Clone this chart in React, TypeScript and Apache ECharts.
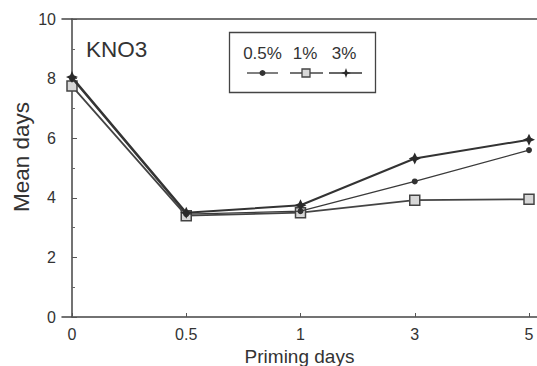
import React, { useEffect, useRef } from "react";
import * as echarts from "echarts";

const categories = ["0", "0.5", "1", "3", "5"];
const seriesNames = ["0.5%", "1%", "3%"];
const values05 = [8.0, 3.45, 3.55, 4.55, 5.6];
const values1 = [7.75, 3.4, 3.5, 3.92, 3.95];
const values3 = [8.05, 3.5, 3.75, 5.32, 5.95];
const yTicks = [0, 2, 4, 6, 8, 10];

const INK = "#333";
const STAR = "path://M5,0 L6.6,3.4 L10,5 L6.6,6.6 L5,10 L3.4,6.6 L0,5 L3.4,3.4 Z";

function starPoints(cx: number, cy: number, r: number, ri: number) {
  const pts: number[][] = [];
  for (let i = 0; i < 8; i++) {
    const a = (Math.PI / 4) * i - Math.PI / 2;
    const rr = i % 2 === 0 ? r : ri;
    pts.push([cx + rr * Math.cos(a), cy + rr * Math.sin(a)]);
  }
  return pts;
}

export default function App() {
  const ref = useRef<HTMLDivElement>(null);
  useEffect(() => {
    if (!ref.current) return;
    const chart = echarts.init(ref.current, null, { renderer: "svg" });
    const toPairs = (arr: number[]) => arr.map((v, i) => [i, v]);
    const idx = categories.map((_, i) => i);
    const font = "'Liberation Sans', Arial, Helvetica, sans-serif";
    chart.setOption({
      animation: false,
      backgroundColor: "#fff",
      textStyle: { fontFamily: font, color: INK },
      grid: { left: 62, right: 0, top: 19, bottom: 49, containLabel: false, outerBoundsMode: "none" },
      xAxis: [
        {
          type: "value",
          min: -0.0875,
          max: 4.07,
          name: "Priming days",
          nameLocation: "middle",
          nameGap: 29,
          nameTextStyle: { fontSize: 19, color: INK, fontFamily: font },
          axisLine: { show: true, lineStyle: { color: "#444", width: 1.5 } },
          axisTick: { show: true, inside: true, length: 4, customValues: idx, lineStyle: { color: "#555" } },
          axisLabel: {
            customValues: idx,
            formatter: (v: number) => categories[Math.round(v)] ?? "",
            fontSize: 16,
            color: INK,
            margin: 9,
            fontFamily: font,
          },
          splitLine: { show: false },
        },
        {
          type: "value",
          position: "top",
          min: -0.0875,
          max: 4.07,
          axisLine: { show: true, lineStyle: { color: "#444", width: 1.5 } },
          axisTick: { show: false },
          axisLabel: { show: false },
          splitLine: { show: false },
        },
      ],
      yAxis: {
        type: "value",
        min: yTicks[0],
        max: yTicks[yTicks.length - 1],
        interval: 2,
        axisLine: { show: true, lineStyle: { color: "#444", width: 1.5 } },
        axisTick: { show: true, inside: true, length: 5, lineStyle: { color: "#555" } },
        minorTick: { show: true, splitNumber: 2, length: 3, lineStyle: { color: "#666" } },
        axisLabel: { fontSize: 16, color: INK, margin: 6, fontFamily: font },
        splitLine: { show: false },
      },
      series: [
        {
          name: seriesNames[0],
          type: "line",
          data: toPairs(values05),
          symbol: "circle",
          symbolSize: 6,
          lineStyle: { color: "#3a3a3a", width: 1.3 },
          itemStyle: { color: "#333" },
          z: 3,
        },
        {
          name: seriesNames[1],
          type: "line",
          data: toPairs(values1),
          symbol: "rect",
          symbolSize: 10,
          lineStyle: { color: "#444", width: 1.8 },
          itemStyle: { color: "#d8d8d8", borderColor: "#444", borderWidth: 1.5 },
          z: 2,
        },
        {
          name: seriesNames[2],
          type: "line",
          data: toPairs(values3),
          symbol: STAR,
          symbolSize: 12,
          lineStyle: { color: "#333", width: 2 },
          itemStyle: { color: "#2a2a2a" },
          z: 4,
        },
      ],
      graphic: [
        {
          type: "text",
          x: 21,
          y: 157,
          rotation: Math.PI / 2,
          style: { text: "Mean days", fontSize: 22.5, fill: INK, fontFamily: font, align: "center", verticalAlign: "middle" },
        },
        {
          type: "text",
          x: 86,
          y: 49,
          style: { text: "KNO3", fontSize: 22.5, fill: INK, fontFamily: font, verticalAlign: "middle" },
        },
        {
          type: "rect",
          shape: { x: 229.5, y: 32.5, width: 146, height: 60 },
          style: { fill: "none", stroke: "#444", lineWidth: 1.3 },
        },
        {
          type: "text",
          x: 262.5,
          y: 53,
          style: { text: seriesNames[0], fontSize: 17, fill: INK, fontFamily: font, align: "center", verticalAlign: "middle" },
        },
        {
          type: "text",
          x: 305,
          y: 53,
          style: { text: seriesNames[1], fontSize: 17, fill: INK, fontFamily: font, align: "center", verticalAlign: "middle" },
        },
        {
          type: "text",
          x: 344,
          y: 53,
          style: { text: seriesNames[2], fontSize: 17, fill: INK, fontFamily: font, align: "center", verticalAlign: "middle" },
        },
        { type: "line", shape: { x1: 247, y1: 73, x2: 278, y2: 73 }, style: { stroke: "#3a3a3a", lineWidth: 1.3 } },
        { type: "circle", shape: { cx: 262.5, cy: 73, r: 3 }, style: { fill: "#333" } },
        { type: "line", shape: { x1: 290, y1: 73, x2: 323, y2: 73 }, style: { stroke: "#444", lineWidth: 1.5 } },
        {
          type: "rect",
          shape: { x: 302, y: 69, width: 8, height: 8 },
          style: { fill: "#d8d8d8", stroke: "#444", lineWidth: 1.3 },
        },
        { type: "line", shape: { x1: 329, y1: 73, x2: 362, y2: 73 }, style: { stroke: "#333", lineWidth: 1.5 } },
        { type: "polygon", shape: { points: starPoints(346, 73, 5, 1.8) }, style: { fill: "#2a2a2a" } },
      ],
    });
    return () => chart.dispose();
  }, []);
  return (
    <div
      ref={ref}
      style={{ position: "fixed", left: 0, top: 0, width: 537, height: 366 }}
    />
  );
}
